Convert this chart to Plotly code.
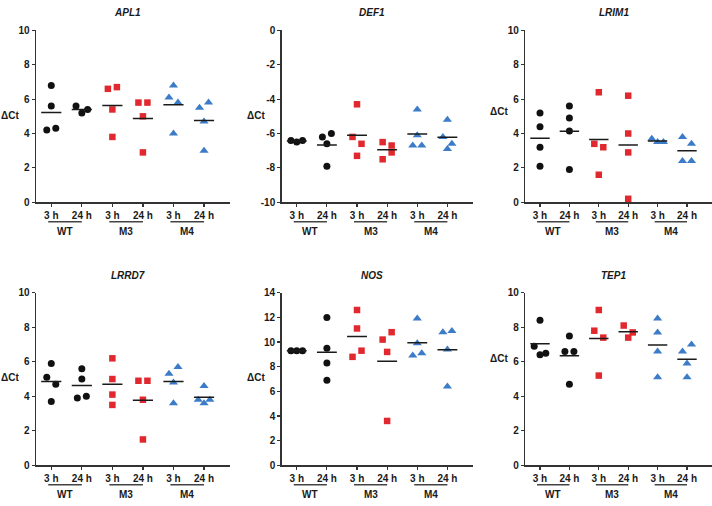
import plotly.graph_objects as go
import numpy as np

W, H = 712, 506

# ---------------- data ----------------
genes = ["APL1", "DEF1", "LRIM1", "LRRD7", "NOS", "TEP1"]
time_labels = ["3 h", "24 h", "3 h", "24 h", "3 h", "24 h"]
group_labels = ["WT", "M3", "M4"]

# each gene: six columns -> WT 3h, WT 24h, M3 3h, M3 24h, M4 3h, M4 24h
apl1 = [[6.8, 5.6, 4.2, 4.3], [5.6, 5.2, 5.4],
        [6.6, 6.7, 5.4, 3.8], [5.8, 5.8, 5.0, 2.9],
        [6.8, 6.1, 5.8, 4.0], [5.5, 5.8, 4.7, 3.0]]
def1 = [[-6.4, -6.5, -6.4], [-6.2, -6.0, -6.6, -7.9],
        [-4.3, -6.2, -6.6, -7.3], [-6.5, -6.7, -7.5, -7.1],
        [-4.6, -6.1, -6.7, -6.7], [-5.2, -6.2, -6.6, -6.9]]
lrim1 = [[5.2, 4.4, 3.2, 2.1], [5.6, 4.9, 4.15, 1.9],
         [6.4, 3.4, 3.2, 1.6], [6.2, 4.0, 2.9, 0.2],
         [3.7, 3.5, 3.5], [3.8, 3.4, 2.4, 2.4]]
lrrd7 = [[5.9, 5.1, 4.7, 3.7], [5.6, 5.0, 3.9, 4.0],
         [6.2, 5.0, 4.1, 3.5], [4.9, 4.9, 3.8, 1.5],
         [5.3, 5.7, 4.8, 3.6], [4.6, 3.8, 3.6, 3.8]]
nos = [[9.3, 9.3, 9.3], [12.0, 9.5, 8.3, 6.9],
       [12.6, 11.1, 8.8, 9.3], [10.2, 10.8, 9.2, 3.6],
       [11.9, 9.9, 8.9, 9.1], [10.8, 10.9, 9.4, 6.4]]
tep1 = [[8.4, 6.9, 6.4, 6.5], [7.5, 6.6, 6.6, 4.7],
        [9.0, 7.8, 7.4, 5.2], [8.1, 7.7, 7.4],
        [8.5, 7.7, 6.6, 5.1], [6.6, 7.0, 5.9, 5.1]]
panel_data = [apl1, def1, lrim1, lrrd7, nos, tep1]

y_ranges = [(0, 10), (-10, 0), (0, 10), (0, 10), (0, 14), (0, 10)]
y_step = 2

# ---------------- styling / layout ----------------
FONT = "Liberation Sans, Arial, sans-serif"
TXT = "#1a1a1a"
AX = "#333333"
group_colors = ["#111111", "#E0282E", "#3B7BC8"]
group_symbols = ["circle", "square", "triangle-up"]
group_sizes = [7, 6.5, 8]

col_left = [36, 281.7, 525.3]
col_right = [230, 473, 712]
row_top = [25, 293.7]
row_bot = [201, 470.5]
x_range = [-0.5, 5.85]
dct_y = [111.7, 111.7, 108.3, 380.7, 380.7, 361]


def swarm_offsets(vals, px_per_unit, px_per_cat, thresh_px=9.5):
    order = sorted(range(len(vals)), key=lambda i: -vals[i])
    clusters = []
    for i in order:
        if clusters and (vals[clusters[-1][0]] - vals[i]) * px_per_unit < thresh_px:
            clusters[-1].append(i)
        else:
            clusters.append([i])
    offs = [0.0] * len(vals)
    for c in clusters:
        c = sorted(c)
        n = len(c)
        step_px = 9.0 if n == 2 else 5.8
        for k, i in enumerate(c):
            offs[i] = (k - (n - 1) / 2) * step_px / px_per_cat
    return offs


fig = go.Figure()
layout = dict(width=W, height=H, margin=dict(l=0, r=0, t=0, b=0),
              paper_bgcolor="white", plot_bgcolor="white", showlegend=False,
              annotations=[], shapes=[])

for p, gene in enumerate(genes):
    row, col = divmod(p, 3)
    ax = p + 1
    xa = "x" if ax == 1 else f"x{ax}"
    ya = "y" if ax == 1 else f"y{ax}"
    left, right = col_left[col], col_right[col]
    top, bot = row_top[row], row_bot[row]
    ymin, ymax = y_ranges[p]
    px_per_cat = (right - left) / (x_range[1] - x_range[0])
    px_per_unit = (bot - top) / (ymax - ymin)
    cols = panel_data[p]

    for g in range(3):
        xs, ys = [], []
        for t in range(2):
            c = 2 * g + t
            vals = cols[c]
            offs = swarm_offsets(vals, px_per_unit, px_per_cat)
            xs += [c + o for o in offs]
            ys += list(vals)
        fig.add_trace(go.Scatter(
            x=xs, y=ys, mode="markers", xaxis=xa, yaxis=ya, cliponaxis=False,
            hoverinfo="skip",
            marker=dict(symbol=group_symbols[g], size=group_sizes[g],
                        color=group_colors[g], line=dict(width=0))))

    mx, my = [], []
    for c, vals in enumerate(cols):
        m = float(np.mean(vals))
        mx += [c - 0.33, c + 0.33, None]
        my += [m, m, None]
    fig.add_trace(go.Scatter(x=mx, y=my, mode="lines", xaxis=xa, yaxis=ya,
                             cliponaxis=False, hoverinfo="skip",
                             line=dict(color="#1a1a1a", width=1.5)))

    layout[f"xaxis{ax if ax > 1 else ''}"] = dict(
        domain=[left / W, right / W], range=x_range, anchor=ya,
        tickvals=list(range(6)), ticktext=[f"<b>{t}</b>" for t in time_labels],
        showline=True, linecolor=AX, linewidth=1.5, ticks="outside", ticklen=3,
        tickwidth=1.2, tickcolor=AX, showgrid=False, zeroline=False,
        tickfont=dict(size=10, family=FONT, color=TXT), fixedrange=True)
    tv = list(range(ymin, ymax + 1, y_step))
    layout[f"yaxis{ax if ax > 1 else ''}"] = dict(
        domain=[1 - bot / H, 1 - top / H], range=[ymin, ymax], anchor=xa,
        tickvals=tv, ticktext=[f"<b>{v}</b>" for v in tv],
        showline=True, linecolor=AX, linewidth=1.5, ticks="outside", ticklen=3,
        tickwidth=1.2, tickcolor=AX, showgrid=False, zeroline=False,
        tickfont=dict(size=10, family=FONT, color=TXT), fixedrange=True)

    # panel title
    layout["annotations"].append(dict(
        x=2.5, xref=xa, y=1 - (top - 18) / H, yref="paper", showarrow=False,
        text=f"<b><i>{gene}</i></b>", font=dict(size=10, family=FONT, color=TXT),
        xanchor="center", yanchor="middle"))
    # y label
    layout["annotations"].append(dict(
        x=(left - 26) / W, xref="paper", y=1 - dct_y[p] / H, yref="paper",
        showarrow=False, text="<b>ΔCt</b>", borderpad=0,
        font=dict(size=10, family=FONT, color=TXT),
        xanchor="center", yanchor="middle"))
    # group underlines + labels
    uy = bot + 20
    ly = bot + 29.5
    for g, gl in enumerate(group_labels):
        layout["shapes"].append(dict(
            type="line", xref=xa, yref="paper", x0=2 * g - 0.1, x1=2 * g + 1.0,
            y0=1 - uy / H, y1=1 - uy / H, line=dict(color="#444444", width=1.5)))
        layout["annotations"].append(dict(
            x=2 * g + 0.45, xref=xa, y=1 - ly / H, yref="paper", showarrow=False,
            text=f"<b>{gl}</b>", borderpad=0,
            font=dict(size=10, family=FONT, color=TXT),
            xanchor="center", yanchor="middle"))

fig.update_layout(**layout)
fig.write_html("out.html", config={"displayModeBar": False, "staticPlot": True},
               post_script="document.body.style.margin='0';document.body.style.overflow='hidden';")
